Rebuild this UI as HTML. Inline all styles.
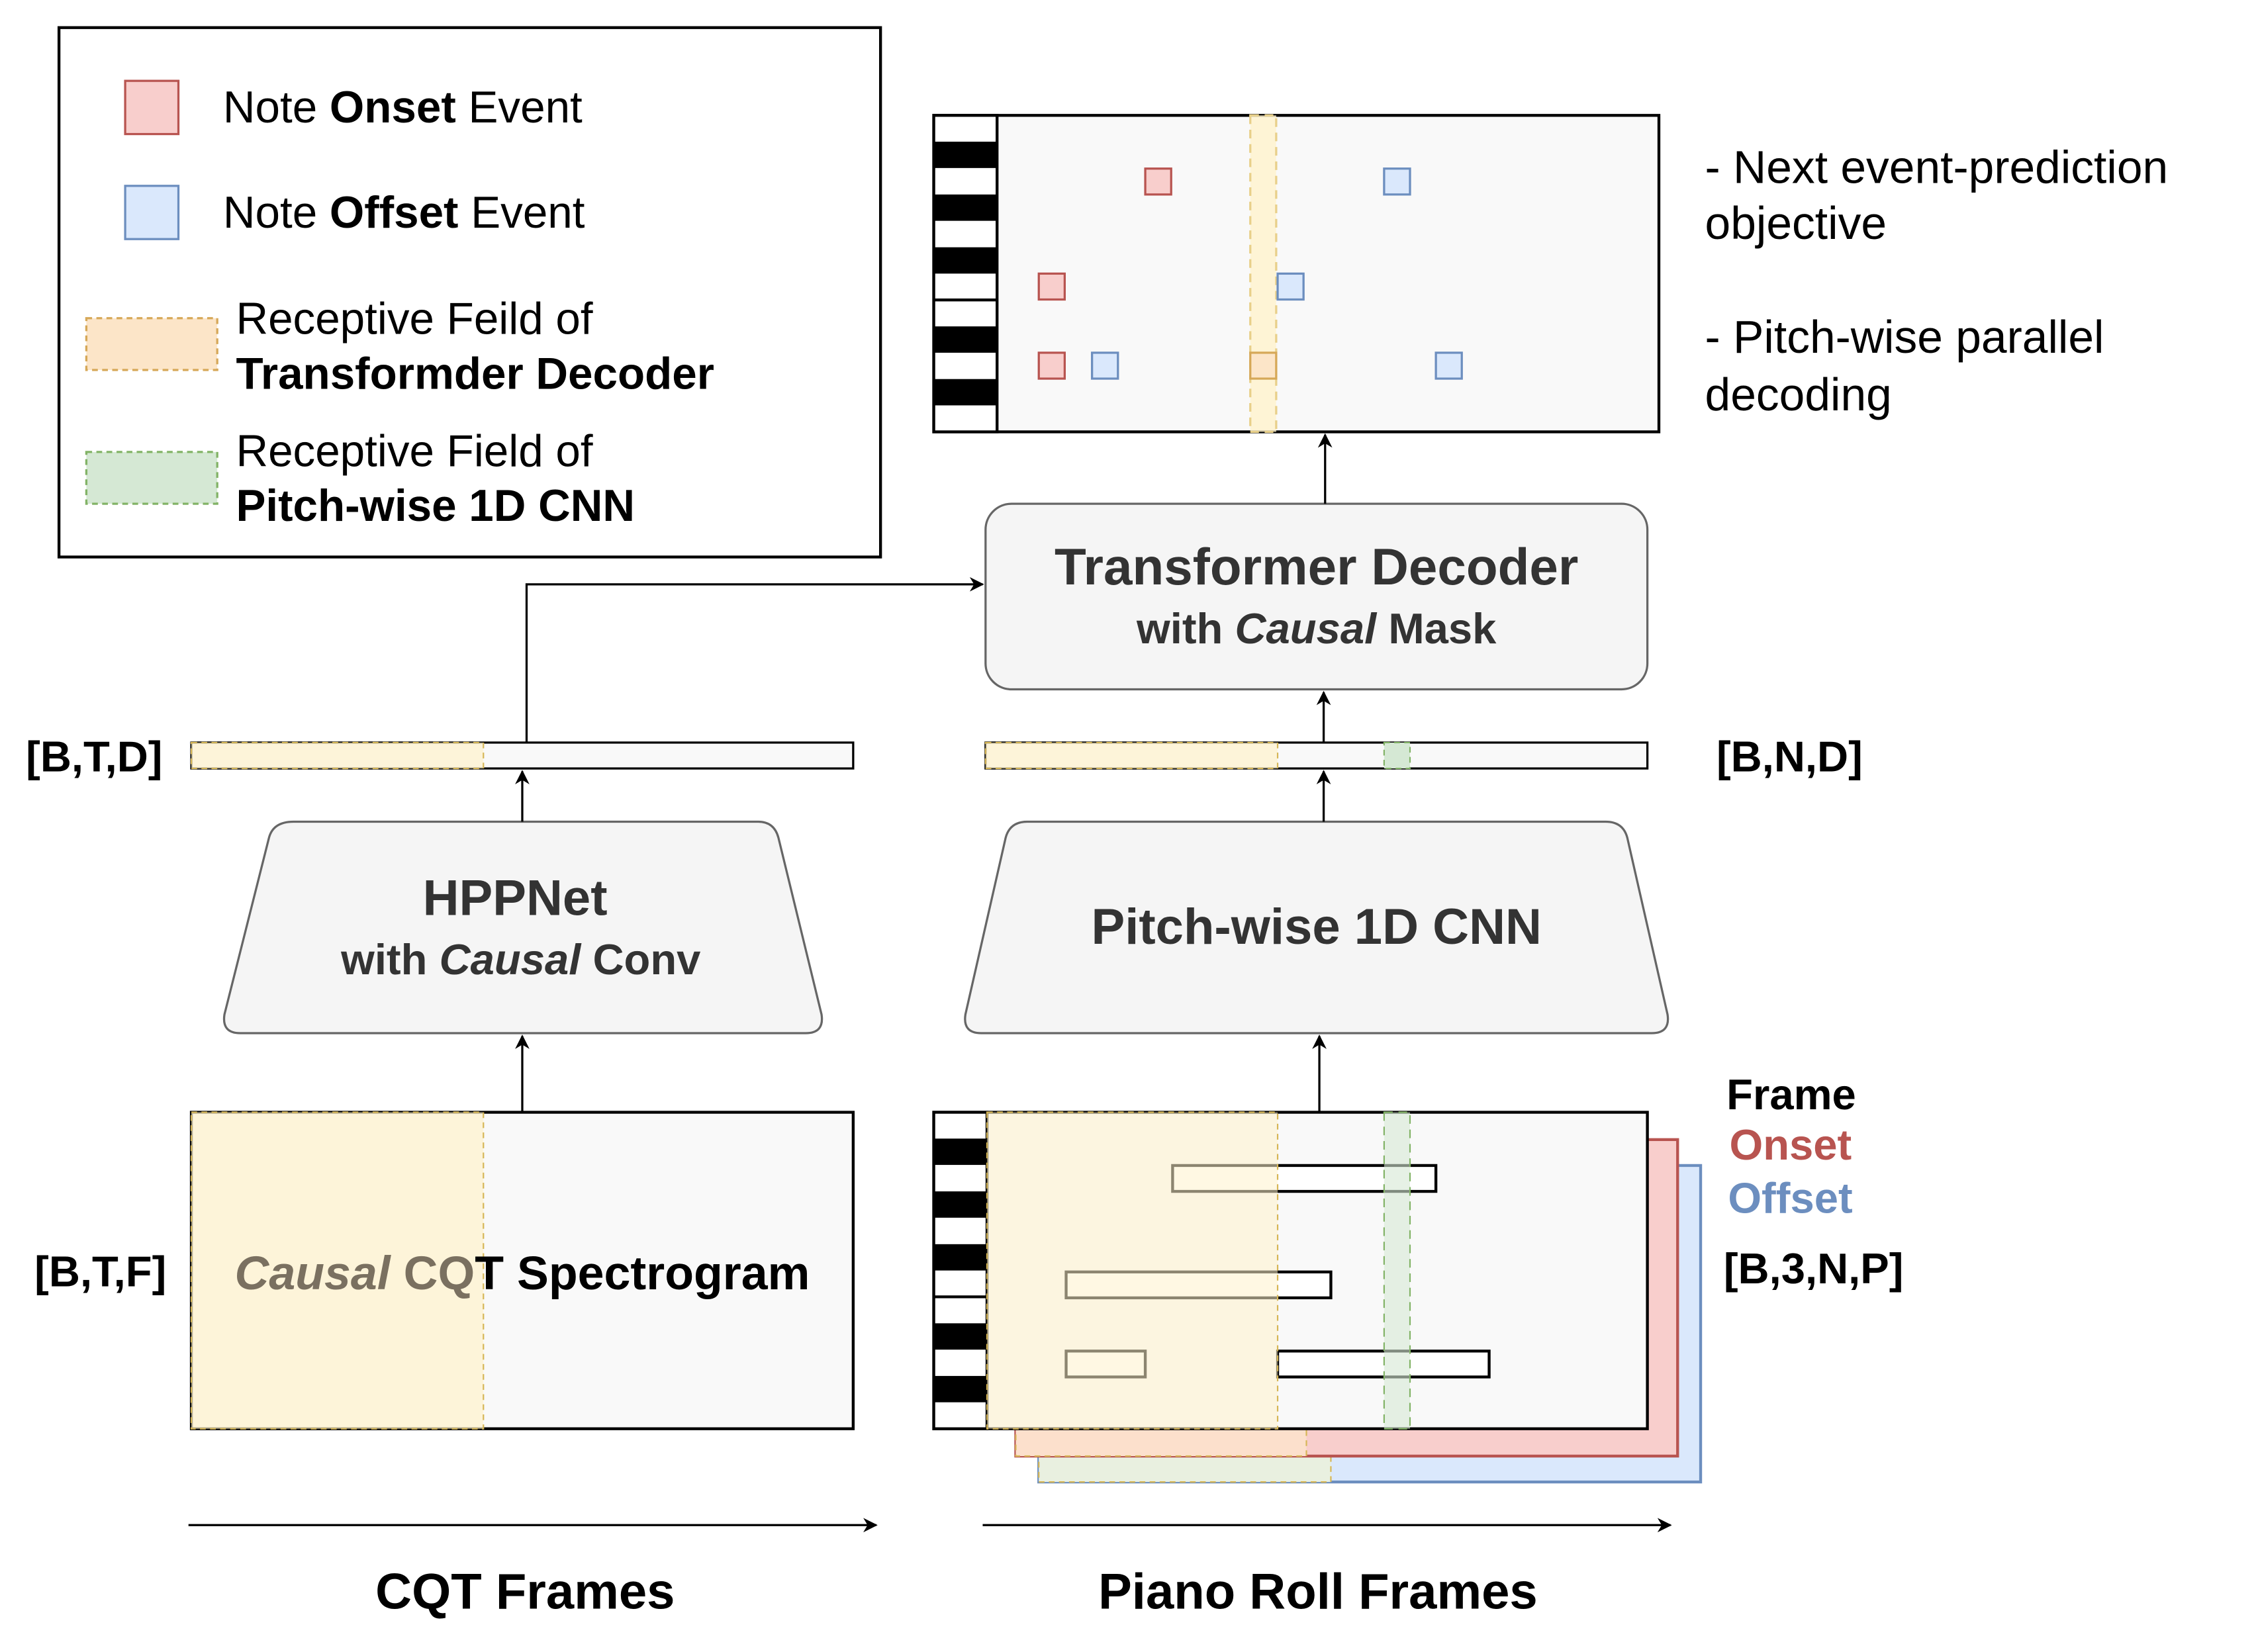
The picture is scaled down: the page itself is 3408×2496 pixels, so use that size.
<!DOCTYPE html>
<html><head><meta charset="utf-8"><style>html,body{margin:0;padding:0;background:#fff}svg{display:block}text{font-family:"Liberation Sans",Arial,sans-serif}</style></head><body>
<svg width="3408" height="2496" viewBox="0 0 1568 1148" xmlns="http://www.w3.org/2000/svg">
<defs><marker id="a" markerWidth="10" markerHeight="10" refX="9" refY="5" orient="auto" markerUnits="userSpaceOnUse"><path d="M0,0 L10,5 L0,10 L3,5 Z" fill="#000"/></marker>
<g id="keys"><rect x="0" y="0" width="44" height="220" fill="#fff" stroke="#000" stroke-width="2"/>
<rect x="0" y="18.3" width="44" height="18.3"/><rect x="0" y="55" width="44" height="18.3"/><rect x="0" y="91.7" width="44" height="18.3"/><rect x="0" y="146.7" width="44" height="18.3"/><rect x="0" y="183.3" width="44" height="18.3"/><line x1="0" y1="128.3" x2="44" y2="128.3" stroke="#000" stroke-width="2"/></g>
<g id="keys2"><rect x="0" y="0" width="37" height="220" fill="#fff" stroke="#000" stroke-width="2"/>
<rect x="0" y="18.3" width="37" height="18.3"/><rect x="0" y="55" width="37" height="18.3"/><rect x="0" y="91.7" width="37" height="18.3"/><rect x="0" y="146.7" width="37" height="18.3"/><rect x="0" y="183.3" width="37" height="18.3"/><line x1="0" y1="128.3" x2="37" y2="128.3" stroke="#000" stroke-width="2"/></g></defs>
<rect x="41" y="19" width="571" height="368" fill="#fff" stroke="#000" stroke-width="2"/>
<rect x="87" y="56" width="37" height="37" fill="#f8cecc" stroke="#b85450" stroke-width="1.5"/>
<rect x="87" y="129" width="37" height="37" fill="#dae8fc" stroke="#6c8ebf" stroke-width="1.5"/>
<rect x="60" y="221" width="91" height="36" fill="#fce5c8" stroke="#d6a858" stroke-width="1.5" stroke-dasharray="4 3"/>
<rect x="60" y="314" width="91" height="36" fill="#d5e8d4" stroke="#82b366" stroke-width="1.5" stroke-dasharray="4 3"/>
<g font-size="31" fill="#000"><text x="155" y="85">Note <tspan font-weight="bold">Onset</tspan> Event</text>
<text x="155" y="158">Note <tspan font-weight="bold">Offset</tspan> Event</text>
<text x="164" y="232">Receptive Feild of</text><text x="164" y="270" font-weight="bold">Transformder Decoder</text>
<text x="164" y="324">Receptive Field of</text><text x="164" y="362" font-weight="bold">Pitch-wise 1D CNN</text>
<text x="1185" y="127" font-size="32">- Next event-prediction</text><text x="1185" y="166" font-size="32">objective</text>
<text x="1185" y="245" font-size="32">- Pitch-wise parallel</text><text x="1185" y="285" font-size="32">decoding</text></g>
<rect x="649" y="80" width="504" height="220" fill="#f9f9f9" stroke="#000" stroke-width="2"/>
<use href="#keys" x="649" y="80"/>
<rect x="869" y="80" width="18" height="220" fill="#fff2cc" fill-opacity="0.8" stroke="#e8d08a" stroke-width="1.5" stroke-dasharray="6 4"/>
<g stroke-width="1.5"><rect x="796" y="117" width="18" height="18" fill="#f8cecc" stroke="#b85450"/><rect x="962" y="117" width="18" height="18" fill="#dae8fc" stroke="#6c8ebf"/>
<rect x="722" y="190" width="18" height="18" fill="#f8cecc" stroke="#b85450"/><rect x="888" y="190" width="18" height="18" fill="#dae8fc" stroke="#6c8ebf"/>
<rect x="722" y="245" width="18" height="18" fill="#f8cecc" stroke="#b85450"/><rect x="759" y="245" width="18" height="18" fill="#dae8fc" stroke="#6c8ebf"/>
<rect x="869" y="245" width="18" height="18" fill="#fce5c8" stroke="#d6a858"/><rect x="998" y="245" width="18" height="18" fill="#dae8fc" stroke="#6c8ebf"/></g>
<rect x="685" y="350" width="460" height="129" rx="18" fill="#f5f5f5" stroke="#666" stroke-width="1.5"/>
<text x="915" y="406" font-size="36" font-weight="bold" text-anchor="middle" fill="#333">Transformer Decoder</text>
<text x="915" y="447" font-size="30" font-weight="bold" text-anchor="middle" fill="#333">with <tspan font-style="italic">Causal</tspan> Mask</text>
<rect x="133" y="516" width="460" height="18" fill="#f9f9f9" stroke="#000" stroke-width="1.5"/>
<rect x="133" y="516" width="203" height="18" fill="#fff2cc" fill-opacity="0.7" stroke="#d6b656" stroke-width="1" stroke-dasharray="4 3"/>
<rect x="685" y="516" width="460" height="18" fill="#f9f9f9" stroke="#000" stroke-width="1.5"/>
<rect x="685" y="516" width="203" height="18" fill="#fff2cc" fill-opacity="0.7" stroke="#d6b656" stroke-width="1" stroke-dasharray="4 3"/>
<rect x="962" y="516" width="18" height="18" fill="#d5e8d4" stroke="#82b366" stroke-width="1" stroke-dasharray="4 3"/>
<g font-size="30" font-weight="bold" fill="#000"><text x="18" y="536">[B,T,D]</text><text x="1193" y="536">[B,N,D]</text>
<text x="24" y="894">[B,T,F]</text><text x="1198" y="892">[B,3,N,P]</text>
<text x="1200" y="771">Frame</text><text x="1202" y="806" fill="#b85450">Onset</text><text x="1201" y="843" fill="#6c8ebf">Offset</text>
<text x="365" y="1118" text-anchor="middle" font-size="35">CQT Frames</text><text x="916" y="1118" text-anchor="middle" font-size="35">Piano Roll Frames</text></g>
<path d="M204,571 L527,571 Q538,571 541,582 L571,705 Q573,718 560,718 L167,718 Q154,718 156,705 L187,582 Q190,571 204,571 Z" fill="#f5f5f5" stroke="#666" stroke-width="1.5"/>
<text x="358" y="636" font-size="35" font-weight="bold" text-anchor="middle" fill="#333">HPPNet</text>
<text x="362" y="677" font-size="30" font-weight="bold" text-anchor="middle" fill="#333">with <tspan font-style="italic">Causal</tspan> Conv</text>
<path d="M714,571 L1116,571 Q1128,571 1131,582 L1159,705 Q1161,718 1148,718 L682,718 Q669,718 671,705 L699,582 Q702,571 714,571 Z" fill="#f5f5f5" stroke="#666" stroke-width="1.5"/>
<text x="915" y="656" font-size="35" font-weight="bold" text-anchor="middle" fill="#333">Pitch-wise 1D CNN</text>
<rect x="133" y="773" width="460" height="220" fill="#f9f9f9" stroke="#000" stroke-width="2"/>
<rect x="133" y="773" width="203" height="220" fill="#fff2cc" fill-opacity="0.7" stroke="#d6b656" stroke-width="1" stroke-dasharray="4 3"/>
<text x="363" y="896" font-size="33" font-weight="bold" text-anchor="middle" fill="#000"><tspan font-style="italic" fill="#7a7060">Causal</tspan><tspan fill="#7a7060"> CQ</tspan>T Spectrogram</text>
<rect x="722" y="810" width="460" height="220" fill="#dae8fc" stroke="#6c8ebf" stroke-width="2"/>
<rect x="722" y="1012" width="203" height="18" fill="#e9f0e0" stroke="#d6b656" stroke-width="1" stroke-dasharray="4 3"/>
<rect x="706" y="792" width="460" height="220" fill="#f8cecc" stroke="#b85450" stroke-width="2"/>
<rect x="706" y="993" width="202" height="19" fill="#fce0cc" stroke="#d6b656" stroke-width="1" stroke-dasharray="4 3"/>
<rect x="649" y="773" width="496" height="220" fill="#f9f9f9" stroke="#000" stroke-width="2"/>
<use href="#keys2" x="649" y="773"/>
<g fill="#fff" stroke="#000" stroke-width="2"><rect x="815" y="810" width="183" height="18"/><rect x="741" y="884" width="184" height="18"/><rect x="741" y="939" width="55" height="18"/><rect x="888" y="939" width="147" height="18"/></g>
<rect x="686" y="773" width="202" height="220" fill="#fff2cc" fill-opacity="0.55" stroke="#d6b656" stroke-width="1" stroke-dasharray="4 3"/>
<rect x="962" y="773" width="18" height="220" fill="#d5e8d4" fill-opacity="0.6" stroke="#82b366" stroke-width="1" stroke-dasharray="6 4"/>
<g stroke="#000" stroke-width="1.5" fill="none" marker-end="url(#a)">
<line x1="363" y1="773" x2="363" y2="720"/><line x1="363" y1="571" x2="363" y2="536"/>
<polyline points="366,516 366,406 683,406"/>
<line x1="920" y1="516" x2="920" y2="481"/><line x1="920" y1="571" x2="920" y2="536"/>
<line x1="917" y1="773" x2="917" y2="720"/><line x1="921" y1="350" x2="921" y2="302"/>
<line x1="131" y1="1060" x2="609" y2="1060"/><line x1="683" y1="1060" x2="1161" y2="1060"/></g>
</svg>
</body></html>
